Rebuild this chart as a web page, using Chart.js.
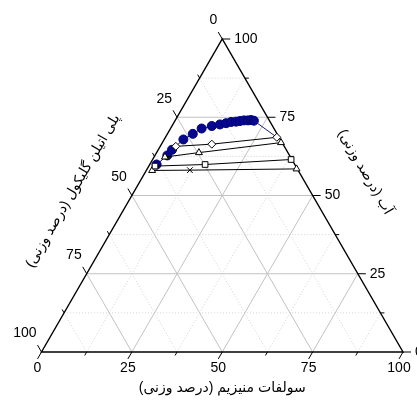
<!DOCTYPE html>
<html>
<head>
<meta charset="utf-8">
<script src="https://cdn.jsdelivr.net/npm/chart.js@4.4.1/dist/chart.umd.min.js"></script>
<style>
  html, body { margin: 0; padding: 0; background: #fff; }
  #wrap { width: 417px; height: 405px; }
</style>
</head>
<body>
<div id="wrap"><canvas id="chart" width="417" height="405"></canvas></div>
<script>
// PEG and MgSO4 in wt%, water is what is left
const binodalPeg  = [38.2, 33.8, 31.6, 26.8, 23.3, 20.0, 16.8, 14.3, 12.4, 10.8, 9.4, 8.2, 7.0, 5.9, 5.0, 4.3];
const binodalSalt = [1.9, 3.4, 3.8, 5.3, 7.0, 8.6, 11.0, 13.0, 14.5, 15.7, 17.0, 18.0, 19.0, 20.1, 20.9, 21.8];

// tie lines: top phase, feed, bottom phase
const tie1Peg  = [30.0, 19.7, 0.6];
const tie1Salt = [4.3, 13.9, 30.8];
const tie2Peg  = [34.7, 24.6, 0.3];
const tie2Salt = [3.0, 11.7, 32.8];
const tie3Peg  = [38.9, 24.8, 0.2];
const tie3Salt = [1.7, 15.3, 38.3];
const tie4Peg  = [40.4, 29.9, 0.2];
const tie4Salt = [1.6, 12.0, 41.3];

const majorTicks = [0, 25, 50, 75, 100];
const minorTicks = [12.5, 37.5, 62.5, 87.5];
const gridMajor  = [25, 50, 75];

const bottomTitle = 'سولفات منیزیم (درصد وزنی)';
const leftTitle   = 'پلی اتیلن گلیکول (درصد وزنی)';
const rightTitle  = 'آب (درصد وزنی)';

const H = Math.sqrt(3) / 2;
function toXY(peg, salt) {
  const water = 100 - peg - salt;
  return { x: (salt + water / 2) / 100, y: water / 100 * H };
}
const pts = (pegs, salts) => pegs.map((p, i) => toXY(p, salts[i]));

const tickFont = '14px "Liberation Sans", Arial, sans-serif';
const titleFont = '14px "Liberation Sans", "DejaVu Sans", sans-serif';

const ternaryFrame = {
  id: 'ternaryFrame',
  beforeDatasetsDraw(chart) {
    const { ctx, scales: { x, y } } = chart;
    const px = (peg, salt) => {
      const p = toXY(peg, salt);
      return [x.getPixelForValue(p.x), y.getPixelForValue(p.y)];
    };
    const seg = (a, b) => { ctx.beginPath(); ctx.moveTo(a[0], a[1]); ctx.lineTo(b[0], b[1]); ctx.stroke(); };
    const gridLine = (v) => {
      seg(px(100 - v, 0), px(0, 100 - v));   // water = v
      seg(px(100 - v, v), px(0, v));         // salt = v
      seg(px(v, 100 - v), px(v, 0));         // peg = v
    };
    ctx.save();

    // minor grid, dotted
    ctx.strokeStyle = '#d2d2d2';
    ctx.lineWidth = 1;
    ctx.setLineDash([1, 2]);
    minorTicks.forEach(gridLine);
    // major grid
    ctx.setLineDash([]);
    ctx.strokeStyle = '#c2c2c2';
    gridMajor.forEach(gridLine);

    // frame
    ctx.strokeStyle = '#000';
    ctx.lineWidth = 1.4;
    const bl = px(100, 0), br = px(0, 100), top = px(0, 0);
    ctx.beginPath();
    ctx.moveTo(bl[0], bl[1]); ctx.lineTo(br[0], br[1]); ctx.lineTo(top[0], top[1]); ctx.closePath();
    ctx.stroke();

    // ticks
    ctx.lineWidth = 1;
    const ticks = (vals, len) => vals.forEach(v => {
      let a = px(0, 100 - v);                  // water axis, right side
      seg(a, [a[0] + len, a[1]]);
      a = px(100 - v, v);                      // salt axis, bottom
      seg(a, [a[0] - len * 0.5, a[1] + len * H]);
      a = px(v, 0);                            // peg axis, left side
      seg(a, [a[0] - len * 0.5, a[1] - len * H]);
    });
    ticks(majorTicks, 8);
    ticks(minorTicks, 4);

    // tick labels
    ctx.fillStyle = '#000';
    ctx.font = tickFont;
    ctx.textBaseline = 'middle';
    majorTicks.forEach(v => {
      let a = px(0, 100 - v);
      ctx.textAlign = 'left';
      ctx.fillText(String(v), a[0] + 12, a[1]);
      a = px(100 - v, v);
      ctx.textAlign = 'center';
      ctx.fillText(String(v), a[0] - 4, a[1] + 16);
      a = px(v, 0);
      ctx.textAlign = 'right';
      ctx.fillText(String(v), a[0] - 5, a[1] - 18.5);
    });

    // axis titles
    ctx.font = titleFont;
    ctx.direction = 'rtl';
    ctx.textAlign = 'center';
    const mid = (bl[0] + br[0]) / 2;
    ctx.fillText(bottomTitle, mid, bl[1] + 36);

    ctx.save();
    ctx.translate(73, 191);
    ctx.rotate(-Math.PI / 3);
    ctx.fillText(leftTitle, 0, 0);
    ctx.restore();

    ctx.save();
    ctx.translate(365, 172);
    ctx.rotate(Math.PI / 3);
    ctx.fillText(rightTitle, 0, 0);
    ctx.restore();

    ctx.restore();
  }
};

function tieSet(pegs, salts, styles) {
  return {
    data: pts(pegs, salts),
    showLine: true,
    borderColor: '#000',
    borderWidth: 1,
    pointStyle: styles,
    pointRadius: 4,
    pointBackgroundColor: '#fff',
    pointBorderColor: '#000',
    pointBorderWidth: 1,
    clip: false
  };
}

const binodal = pts(binodalPeg, binodalSalt);

new Chart(document.getElementById('chart'), {
  type: 'scatter',
  data: {
    datasets: [
      tieSet(tie1Peg, tie1Salt, 'rectRot'),
      tieSet(tie2Peg, tie2Salt, 'triangle'),
      tieSet(tie3Peg, tie3Salt, 'rect'),
      tieSet(tie4Peg, tie4Salt, ['triangle', 'crossRot', 'triangle']),
      {
        // binodal continues down to the salt rich end of the first tie line
        data: [binodal[binodal.length - 1], toXY(tie1Peg[2], tie1Salt[2])],
        showLine: true,
        borderColor: '#1a1a80',
        borderWidth: 1,
        pointRadius: 0,
        clip: false
      },
      {
        data: binodal,
        showLine: true,
        borderColor: '#00007a',
        borderWidth: 1,
        pointRadius: 4.5,
        pointBackgroundColor: '#08088f',
        pointBorderColor: '#00007a',
        clip: false
      }
    ]
  },
  options: {
    responsive: false,
    animation: false,
    devicePixelRatio: 1,
    layout: { padding: { left: 41.5, right: 14, top: 39, bottom: 53 } },
    plugins: { legend: { display: false }, tooltip: { enabled: false } },
    scales: {
      x: { type: 'linear', min: 0, max: 1, display: false },
      y: { type: 'linear', min: 0, max: H, display: false }
    }
  },
  plugins: [ternaryFrame]
});
</script>
</body>
</html>
